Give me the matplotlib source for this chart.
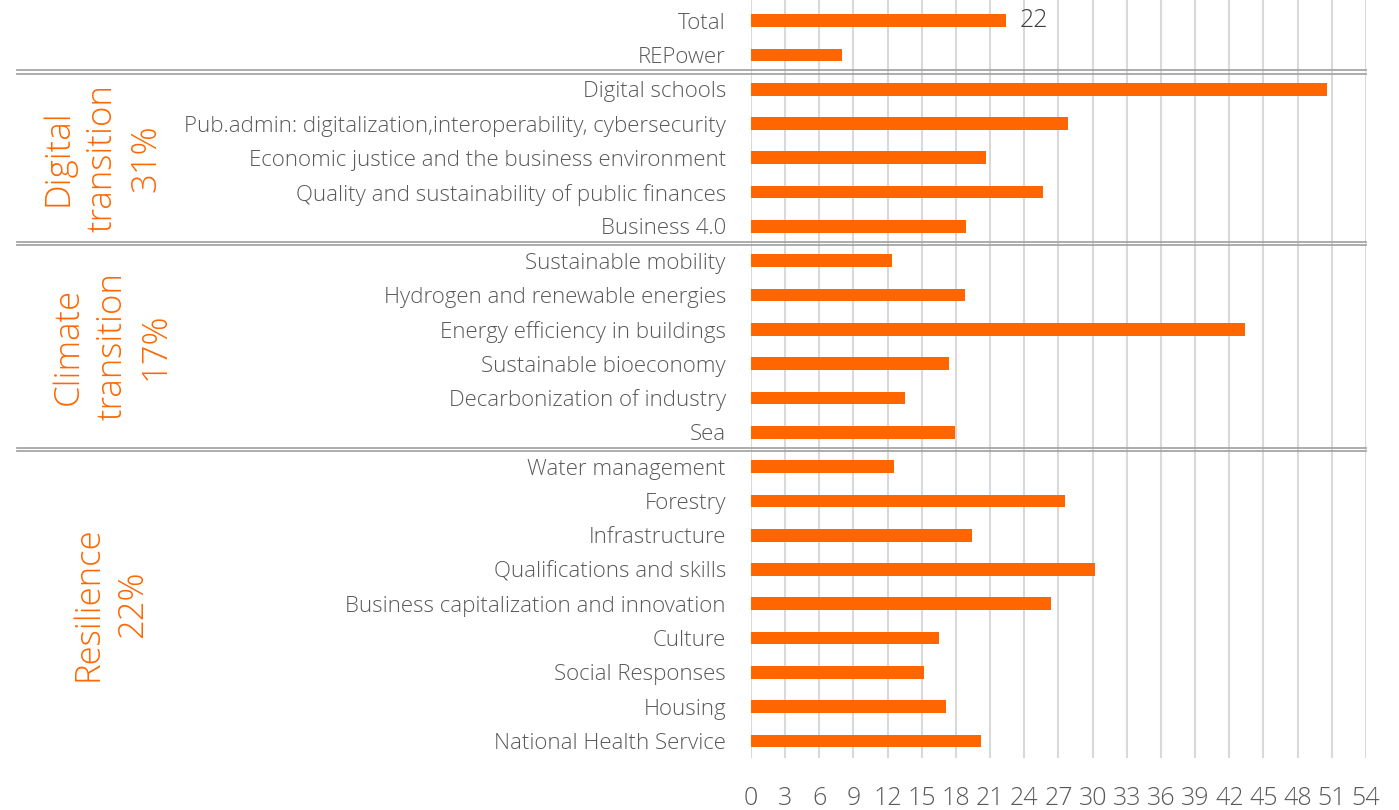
import matplotlib

matplotlib.use("Agg")
import matplotlib.pyplot as plt
from matplotlib.transforms import blended_transform_factory

# categories top to bottom
categories = [
    "Total",
    "REPower",
    "Digital schools",
    "Pub.admin: digitalization,interoperability, cybersecurity",
    "Economic justice and the business environment",
    "Quality and sustainability of public finances",
    "Business 4.0",
    "Sustainable mobility",
    "Hydrogen and renewable energies",
    "Energy efficiency in buildings",
    "Sustainable bioeconomy",
    "Decarbonization of industry",
    "Sea",
    "Water management",
    "Forestry",
    "Infrastructure",
    "Qualifications and skills",
    "Business capitalization and innovation",
    "Culture",
    "Social Responses",
    "Housing",
    "National Health Service",
]
values = [
    22.4, 8.0,
    50.6, 27.8, 20.6, 25.6, 18.9,
    12.4, 18.8, 43.4, 17.4, 13.5, 17.9,
    12.6, 27.6, 19.4, 30.2, 26.3, 16.5, 15.2, 17.1, 20.2,
]
x_ticks = list(range(0, 55, 3))

# pillar groups: (label, first index, last index)
groups = [
    ("Digital\ntransition\n31%", 2, 6),
    ("Climate\ntransition\n17%", 7, 12),
    ("Resilience\n22%", 13, 21),
]
group_x = [0.073, 0.080, 0.079]
separators = [1.5, 6.5, 12.5]

ORANGE = "#FF6600"
GREY_TEXT = "#595959"
plt.rcParams["font.family"] = ["Open Sans", "DejaVu Sans"]

fig = plt.figure(figsize=(13.99, 8.10), dpi=100)
ax = fig.add_axes([0.5368, 0.064, 0.4396, 0.936])

y = list(range(len(categories)))
ax.barh(y, values, height=0.37, color=ORANGE, zorder=3)
ax.text(values[0] + 1.2, 0, f"{values[0]:.0f}", va="center", ha="left",
        fontsize=18, color="#404040", fontweight="light")

ax.set_xlim(0, 54)
ax.set_ylim(21.5, -0.6)
ax.set_xticks(x_ticks)
ax.set_yticks(y)
ax.set_yticklabels(categories)
ax.tick_params(axis="x", length=0, pad=20, labelsize=18, labelcolor=GREY_TEXT)
ax.tick_params(axis="y", length=0, pad=18, labelsize=16, labelcolor=GREY_TEXT)
for lab in ax.get_xticklabels() + ax.get_yticklabels():
    lab.set_fontweight("light")
ax.grid(axis="x", color="#D9D9D9", linewidth=1.5, zorder=0)
ax.set_axisbelow(True)
for s in ax.spines.values():
    s.set_visible(False)

trans = blended_transform_factory(fig.transFigure, ax.transData)
for s in separators:
    for off in (-0.055, 0.055):
        ax.plot([0.012, 0.9764], [s + off, s + off], transform=trans,
                color="#A6A6A6", linewidth=1.3, clip_on=False, zorder=4)

for (label, i0, i1), gx in zip(groups, group_x):
    yc = (i0 + i1) / 2
    ax.text(gx, yc, label, transform=trans, rotation=90, ha="center",
            va="center", multialignment="center", fontsize=25,
            color=ORANGE, fontweight="light", linespacing=1.35)

fig.savefig("out.png", dpi=100)
